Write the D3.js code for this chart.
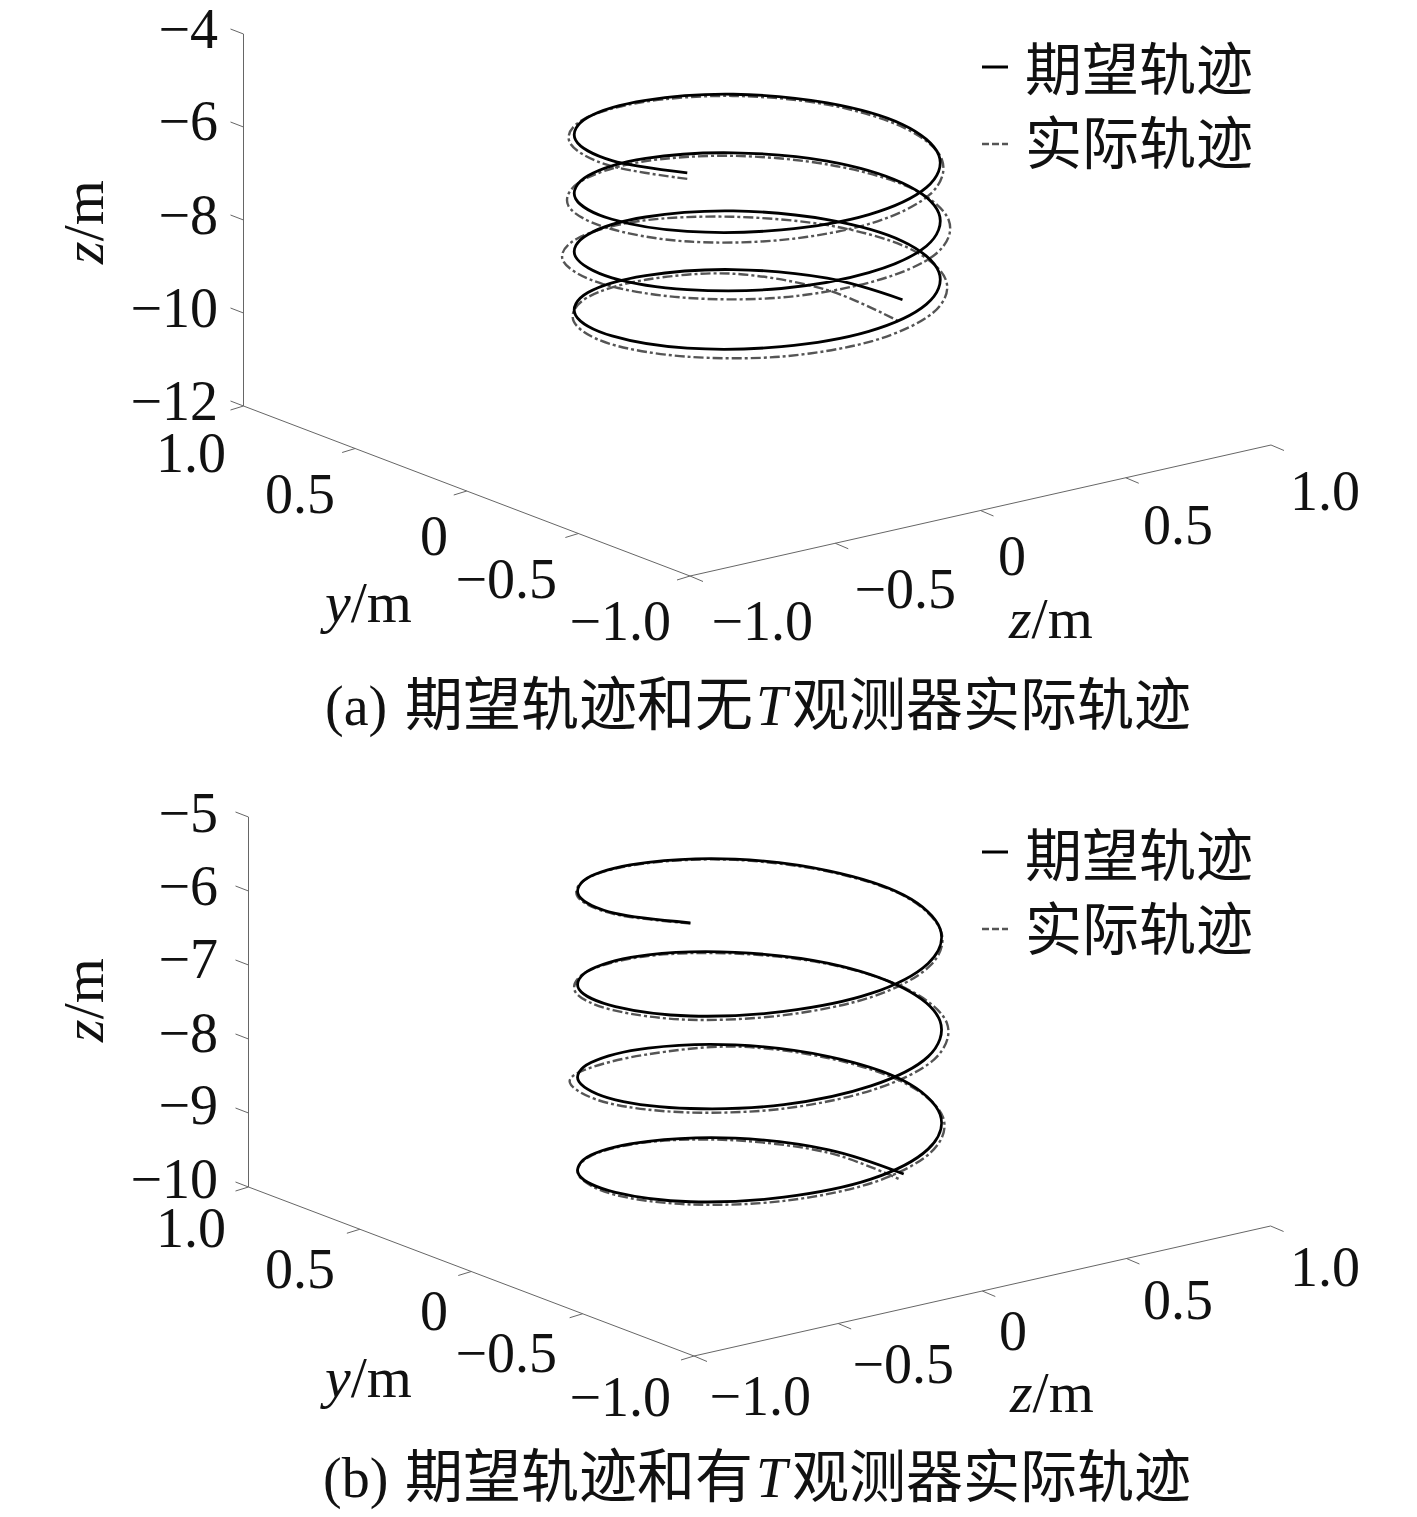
<!DOCTYPE html>
<html>
<head>
<meta charset="utf-8">
<script src="https://cdn.jsdelivr.net/npm/d3@7"></script>
<style>
html, body { margin: 0; padding: 0; background: #fff; }
svg { display: block; }
text { font-family: "Liberation Serif", "Noto Sans CJK SC", serif; fill: #111; }
.cjk { font-family: "Noto Sans CJK SC", sans-serif; }
</style>
</head>
<body>
<svg id="chart" width="1417" height="1517"></svg>
<script>

// helix, 30 degree steps along the curve
let desiredX = [-0.433,-0.5,-0.433,-0.25,0,0.25,0.433,0.5,0.433,0.25,0,-0.25,
    -0.433,-0.5,-0.433,-0.25,0,0.25,0.433,0.5,0.433,0.25,0,-0.25,
    -0.433,-0.5,-0.433,-0.25,0,0.25,0.433,0.5,0.433,0.25,0,-0.25,
    -0.433,-0.5,-0.433,-0.25,0,0.25,0.433,0.5]
let desiredY = [-0.25,0,0.25,0.433,0.5,0.433,0.25,0,-0.25,-0.433,-0.5,-0.433,
    -0.25,0,0.25,0.433,0.5,0.433,0.25,0,-0.25,-0.433,-0.5,-0.433,
    -0.25,0,0.25,0.433,0.5,0.433,0.25,0,-0.25,-0.433,-0.5,-0.433,
    -0.25,0,0.25,0.433,0.5,0.433,0.25,0]
let desiredZ = [-5.50,-5.60,-5.71,-5.81,-5.92,-6.02,-6.13,-6.23,-6.34,-6.44,-6.55,-6.65,
    -6.76,-6.86,-6.97,-7.07,-7.17,-7.28,-7.38,-7.49,-7.59,-7.70,-7.80,-7.91,
    -8.01,-8.12,-8.22,-8.33,-8.43,-8.53,-8.64,-8.74,-8.85,-8.95,-9.06,-9.16,
    -9.27,-9.37,-9.48,-9.58,-9.69,-9.79,-9.90,-10.00]

// actual trajectory without T observer
let actualAX = [-0.433,-0.51,-0.446,-0.257,0,0.255,0.441,0.508,0.44,0.256,0,-0.26,
    -0.45,-0.52,-0.45,-0.26,0,0.26,0.452,0.525,0.456,0.264,0,-0.264,
    -0.458,-0.531,-0.462,-0.265,0,0.26,0.45,0.519,0.449,0.26,0,-0.26,
    -0.445,-0.51,-0.437,-0.251,0,0.25,0.429,0.49]
let actualAY = [-0.25,0,0.258,0.445,0.512,0.442,0.255,0,-0.254,-0.443,-0.516,-0.45,
    -0.26,0,0.26,0.45,0.52,0.45,0.261,0,-0.264,-0.456,-0.527,-0.456,
    -0.265,0,0.267,0.459,0.525,0.45,0.26,0,-0.26,-0.449,-0.519,-0.449,
    -0.257,0,0.253,0.435,0.5,0.433,0.248,0]
let actualAZ = [-5.63,-5.69,-5.77,-5.87,-5.98,-6.08,-6.19,-6.32,-6.43,-6.57,-6.70,-6.82,
    -6.93,-7.01,-7.12,-7.20,-7.28,-7.39,-7.51,-7.62,-7.74,-7.85,-7.93,-8.04,
    -8.12,-8.21,-8.31,-8.44,-8.56,-8.70,-8.81,-8.91,-9.02,-9.12,-9.23,-9.33,
    -9.42,-9.52,-9.61,-9.69,-9.78,-9.88,-10.14,-10.46]

// actual trajectory with T observer
let actualBX = [-0.433,-0.502,-0.436,-0.251,0,0.25,0.433,0.5,0.435,0.252,0,-0.254,
    -0.44,-0.508,-0.441,-0.255,0,0.255,0.443,0.515,0.449,0.259,0,-0.258,
    -0.448,-0.52,-0.452,-0.26,0,0.253,0.437,0.506,0.44,0.254,0,-0.254,
    -0.437,-0.502,-0.433,-0.25,0,0.25,0.433,0.49]
let actualBY = [-0.25,0,0.252,0.435,0.5,0.433,0.25,0,-0.251,-0.436,-0.505,-0.439,
    -0.254,0,0.255,0.441,0.51,0.442,0.256,0,-0.26,-0.448,-0.515,-0.446,
    -0.259,0,0.261,0.45,0.51,0.437,0.253,0,-0.254,-0.44,-0.507,-0.439,
    -0.253,0,0.25,0.433,0.5,0.433,0.25,0]
let actualBZ = [-5.51,-5.61,-5.72,-5.82,-5.93,-6.03,-6.14,-6.24,-6.37,-6.48,-6.59,-6.69,
    -6.80,-6.90,-7.01,-7.10,-7.20,-7.31,-7.41,-7.52,-7.62,-7.73,-7.83,-7.94,
    -8.04,-8.15,-8.26,-8.44,-8.53,-8.56,-8.67,-8.78,-8.89,-8.99,-9.10,-9.20,
    -9.30,-9.40,-9.49,-9.59,-9.70,-9.82,-9.94,-10.07]

let groundTicks = [-1, -0.5, 0, 0.5, 1]
let groundLabels = ["\u22121.0", "\u22120.5", "0", "0.5", "1.0"]
let zTicksA = [-4, -6, -8, -10, -12]
let zTicksB = [-5, -6, -7, -8, -9, -10]
let legendNames = ["期望轨迹", "实际轨迹"]

let panels = [
    {
        origin: [690, 576], right: [1271, 445], left: [243.5, 406],
        zDomain: [-12, -4], zRange: [406, 34], zTicks: zTicksA,
        zBase: [48, 140, 234, 327, 420],
        yLabelEnd: [671, 557, 448, 335, 226], yLabelBase: [640, 598, 555, 513, 472],
        xLabelEnd: [813, 956, 1026, 1213, 1360], xLabelBase: [640, 608, 575, 544, 510],
        zLabelMid: 222, yName: [325, 622], xName: [1009, 638],
        legendY: [67, 144], legendText: [90, 164],
        cap: "(a)", capWord: "无", capX: 325, capBase: 725,
        actual: [actualAX, actualAY, actualAZ]
    },
    {
        origin: [694, 1356], right: [1270.6, 1226], left: [248.5, 1187],
        zDomain: [-10, -5], zRange: [1187, 817], zTicks: zTicksB,
        zBase: [832, 905, 978, 1052, 1124, 1198],
        yLabelEnd: [671, 557, 448, 335, 226], yLabelBase: [1416, 1372, 1330, 1288, 1247],
        xLabelEnd: [811, 954, 1027, 1213, 1360], xLabelBase: [1415, 1383, 1350, 1319, 1286],
        zLabelMid: 1000, yName: [325, 1397], xName: [1010, 1412],
        legendY: [852, 929], legendText: [876, 950],
        cap: "(b)", capWord: "有", capX: 323, capBase: 1497,
        actual: [actualBX, actualBY, actualBZ]
    }
]

let svg = d3.select("#chart")

function drawPanel(p){
    let g = svg.append("g")

    // x and y each move a point along one edge of the floor, z moves it straight up
    let xPx = d3.scaleLinear().domain([-1, 1]).range([0, p.right[0] - p.origin[0]])
    let xPy = d3.scaleLinear().domain([-1, 1]).range([0, p.right[1] - p.origin[1]])
    let yPx = d3.scaleLinear().domain([-1, 1]).range([0, p.left[0] - p.origin[0]])
    let yPy = d3.scaleLinear().domain([-1, 1]).range([0, p.left[1] - p.origin[1]])
    let zP = d3.scaleLinear().domain(p.zDomain).range(p.zRange)

    let project = (x, y, z) => [
        p.origin[0] + xPx(x) + yPx(y),
        p.origin[1] + xPy(x) + yPy(y) + zP(z) - zP(p.zDomain[0])
    ]

    let axisColor = "#666"
    let segment = (a, b) => g.append("line")
        .attr("x1", a[0]).attr("y1", a[1])
        .attr("x2", b[0]).attr("y2", b[1])
        .attr("stroke", axisColor)
        .attr("stroke-width", 1)

    let zMin = p.zDomain[0]
    segment(project(-1, -1, zMin), project(1, -1, zMin))
    segment(project(-1, -1, zMin), project(-1, 1, zMin))
    segment(project(-1, 1, zMin), project(-1, 1, p.zDomain[1]))

    for(let t of groundTicks){
        let a = project(t, -1, zMin)
        segment(a, [a[0] + 13, a[1] + 5.5])
        let b = project(-1, t, zMin)
        segment(b, [b[0] - 13, b[1] + 4])
    }
    for(let t of p.zTicks){
        let a = project(-1, 1, t)
        segment(a, [a[0] - 13, a[1] - 5])
    }

    // tick labels
    let label = (str, x, y, anchor) => g.append("text")
        .attr("x", x).attr("y", y)
        .attr("text-anchor", anchor)
        .style("font-size", "56px")
        .text(str)

    p.zTicks.forEach((t, i) => label("\u2212" + Math.abs(t), 218, p.zBase[i], "end"))
    groundLabels.forEach((s, i) => {
        label(s, p.yLabelEnd[i], p.yLabelBase[i], "end")
        label(s, p.xLabelEnd[i], p.xLabelBase[i], "end")
    })

    // axis names
    let name = (letter, x, y) => {
        let t = g.append("text").attr("x", x).attr("y", y).style("font-size", "58px")
        t.append("tspan").style("font-style", "italic").text(letter)
        t.append("tspan").text("/m")
        return t
    }
    name("y", p.yName[0], p.yName[1])
    name("z", p.xName[0], p.xName[1])
    name("z", 0, 0)
        .attr("text-anchor", "middle")
        .attr("transform", "translate(103," + p.zLabelMid + ") rotate(-90)")

    // trajectories, uniform catmull-rom keeps the narrow ends of the ellipse round
    let line = d3.line().curve(d3.curveCatmullRom.alpha(0))
    let pts = (xs, ys, zs) => xs.map((x, i) => project(x, ys[i], zs[i]))

    g.append("path")
        .attr("d", line(pts(p.actual[0], p.actual[1], p.actual[2])))
        .attr("fill", "none")
        .attr("stroke", "#555")
        .attr("stroke-width", 2.4)
        .attr("stroke-dasharray", "10 3 3 3")

    g.append("path")
        .attr("d", line(pts(desiredX, desiredY, desiredZ)))
        .attr("fill", "none")
        .attr("stroke", "#000")
        .attr("stroke-width", 2.8)

    // legend
    legendNames.forEach((n, i) => {
        g.append("line")
            .attr("x1", 982).attr("x2", 1008)
            .attr("y1", p.legendY[i]).attr("y2", p.legendY[i])
            .attr("stroke", i == 0 ? "#000" : "#555")
            .attr("stroke-width", i == 0 ? 3 : 2.6)
            .attr("stroke-dasharray", i == 0 ? null : "7 3")
        g.append("text")
            .attr("class", "cjk")
            .attr("x", 1025)
            .attr("y", p.legendText[i])
            .style("font-size", "57px")
            .text(n)
    })

    // caption
    let cap = g.append("text").attr("y", p.capBase)
    cap.append("tspan").attr("x", p.capX).style("font-size", "56px").text(p.cap)
    cap.append("tspan").attr("x", 405).attr("class", "cjk").style("font-size", "58px").text("期望轨迹和" + p.capWord)
    cap.append("tspan").attr("x", 756).style("font-size", "56px").style("font-style", "italic").text("T")
    cap.append("tspan").attr("x", 792).attr("class", "cjk").style("font-size", "57px").text("观测器实际轨迹")
}

panels.forEach(drawPanel)

</script>
</body>
</html>
